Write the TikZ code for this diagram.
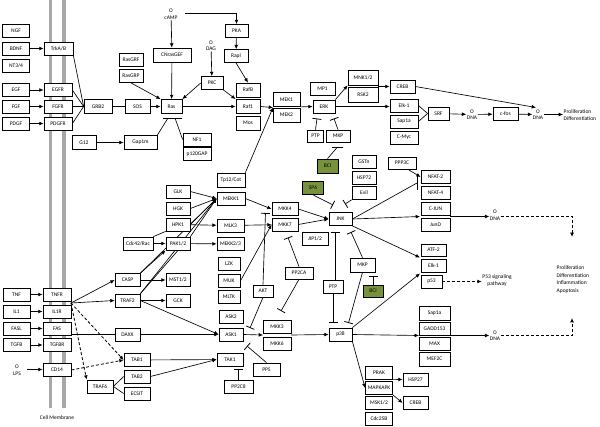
\documentclass[tikz,border=0pt]{standalone}
\usepackage{fontspec}
\setmainfont{Carlito}
\usetikzlibrary{arrows.meta,shadows}
\definecolor{grn}{HTML}{76923C}
\definecolor{memb}{HTML}{A8A8A8}
\pgfdeclarelayer{bg}
\pgfsetlayers{bg,main}
\begin{document}
\begin{tikzpicture}[x=1pt,y=-1pt,
  font=\fontsize{5.5}{6.5}\selectfont,
  box/.style={draw, line width=0.75pt, fill=white, minimum height=13pt, inner sep=0.5pt, minimum width=#1,
    drop shadow={shadow xshift=0.9pt, shadow yshift=-0.9pt, fill=black!35, opacity=1}},
  box/.default=26pt,
  gbox/.style={box=#1, fill=grn},
  txt/.style={align=center, inner sep=0.5pt},
  ln/.style={line width=0.65pt},
  ar/.style={ln, -{Latex[length=4.3pt,width=3.8pt]}},
  inh/.style={ln, -{Bar[width=9pt,line width=0.8pt]}},
  dsh/.style={ar, line width=0.8pt, dash pattern=on 3pt off 2pt},
  membl/.style={line width=3.4pt, draw=memb}]
\useasboundingbox (0,0) rectangle (600,426);

% ---------- nodes ----------
\node[box=27pt] (NGF) at (16,30.5) {NGF};
\node[box=27pt] (BDNF) at (16,48.5) {BDNF};
\node[box=27pt] (NT34) at (16,66) {NT3/4};
\node[box=27pt] (EGF) at (16,90) {EGF};
\node[box=27pt] (FGF) at (16,106.5) {FGF};
\node[box=27pt] (PDGF) at (16,123.5) {PDGF};
\node[box=27pt] (TNF) at (16.5,294.5) {TNF};
\node[box=27pt] (IL1) at (16.5,311.5) {IL1};
\node[box=27pt] (FASL) at (16.5,328.5) {FASL};
\node[box=27pt] (TGFB) at (16.5,345) {TGFB};

\node[box=29pt] (TrkAB) at (58.5,48.5) {TrkA/B};
\node[box=28pt] (EGFR) at (58,90) {EGFR};
\node[box=28pt] (FGFR) at (58,106.5) {FGFR};
\node[box=28pt] (PDGFR) at (58,123.5) {PDGFR};
\node[box=28pt] (TNFR) at (57,294.5) {TNFR};
\node[box=28pt] (IL1R) at (57,311.5) {IL1R};
\node[box=28pt] (FAS) at (57,328.5) {FAS};
\node[box=28pt] (TGFBR) at (57,345) {TGFBR};
\node[box=28pt] (CD14) at (57,370) {CD14};
\node[txt] (lps) at (17,370) {O\\LPS};
\node[txt] (cm) at (57,418) {Cell Membrane};

\node[box=28pt,minimum height=14pt] (GRB2) at (98,106.5) {GRB2};
\node[box=25pt,minimum height=14pt] (SOS) at (137.5,106.5) {SOS};
\node[box=21pt,minimum height=14pt] (Ras) at (171.5,106.5) {Ras};
\node[box=24pt] (RasGRF) at (131,59.5) {RasGRF};
\node[box=24pt] (RasGRP) at (131,76) {RasGRP};
\node[box=38pt,minimum height=14pt] (CNrasGEF) at (172,55) {CNrasGEF};
\node[txt] (cAMP) at (171,14) {O\\cAMP};
\node[box=23pt] (PKA) at (236.5,31) {PKA};
\node[box=24pt] (Rapl) at (236,56) {Rapl};
\node[txt] (dag) at (211,45.5) {O\\DAG};
\node[box=22pt] (PKC) at (212,83) {PKC};
\node[box=24pt,minimum height=14pt] (RafB) at (248,90) {RafB};
\node[box=24pt,minimum height=14pt] (Raf1) at (248,106.5) {Raf1};
\node[box=24pt,minimum height=14pt] (Mos) at (248,123) {Mos};
\node[box=27pt,minimum height=14pt] (MEK1) at (286.5,99.5) {MEK1};
\node[box=27pt,minimum height=14pt] (MEK2) at (286.5,115) {MEK2};
\node[box=25pt] (MP1) at (322.5,88.5) {MP1};
\node[box=22pt] (ERK) at (324,106.5) {ERK};
\node[box=16pt,minimum height=12pt] (PTPa) at (315.5,136) {PTP};
\node[box=24pt,minimum height=12pt] (MKPa) at (338,136) {MKP};
\node[box=30pt,minimum height=15pt] (MNK) at (363,77.5) {MNK1/2};
\node[box=30pt,minimum height=15pt] (RSK2) at (363,94.5) {RSK2};
\node[box=25pt] (CREBa) at (402.5,86.5) {CREB};
\node[box=28pt] (Elka) at (404,105.5) {Elk-1};
\node[box=28pt] (Sapa) at (404,121.5) {Sap1a};
\node[box=28pt] (CMyc) at (404,137.5) {C-Myc};
\node[box=21pt] (SRF) at (438.5,113.5) {SRF};
\node[txt] (dna1) at (472,114.5) {O\\DNA};
\node[box=25pt] (cfos) at (505.5,114) {c-fos};
\node[txt] (dna2) at (538,114.5) {O\\DNA};
\node[txt,align=left,anchor=west] (prolif1) at (563,115) {Proliferation\\Differentiation};

\node[box=24pt,minimum height=14pt] (G12) at (84,142.5) {G12};
\node[box=33pt,minimum height=14pt] (Gap1m) at (140.5,142.5) {Gap1m};
\node[box=28pt] (NF1) at (197,139.5) {NF1};
\node[box=28pt] (p120) at (197,154) {p120GAP};

\node[box=28pt,minimum height=14pt] (Tp12) at (231,180) {Tp12/Cot};
\node[box=24pt] (GLK) at (178,191.5) {GLK};
\node[box=24pt] (HGK) at (178,208.5) {HGK};
\node[box=24pt] (HPK1) at (178,224.5) {HPK1};
\node[box=24pt] (PAK12) at (178,243.5) {PAK1/2};
\node[box=24pt] (MST12) at (178,280) {MST1/2};
\node[box=24pt] (GCK) at (178,300.5) {GCK};
\node[box=30pt] (Cdc42) at (138,243.5) {Cdc42/Rac};
\node[box=25pt] (CASP) at (127.5,280) {CASP};
\node[box=25pt] (TRAF2) at (127.5,300.5) {TRAF2};
\node[box=25pt] (DAXX) at (127.5,334.5) {DAXX};

\node[box=28pt] (MEKK1) at (231,198.5) {MEKK1};
\node[box=27pt] (MLK3) at (230.5,225.5) {MLK3};
\node[box=27pt] (MEKK23) at (230.5,244) {MEKK2/3};
\node[box=22pt] (LZK) at (229,263.5) {LZK};
\node[box=22pt] (MUK) at (229,281) {MUK};
\node[box=22pt] (MLTK) at (229,296.5) {MLTK};
\node[box=24pt] (ASK2) at (231,316.5) {ASK2};
\node[box=24pt] (ASK1) at (231,334.5) {ASK1};
\node[box=26pt] (TAK1) at (230,359.5) {TAK1};
\node[box=26pt] (MKK4) at (285,209) {MKK4};
\node[box=26pt] (MKK7) at (285,224.5) {MKK7};
\node[box=26pt] (JIP) at (315,238.5) {JIP1/2};
\node[box=23pt] (JNK) at (340.5,219) {JNK};
\node[box=24pt] (GSTn) at (364,161.5) {GSTn};
\node[box=24pt] (HSP72) at (364,177.5) {HSP72};
\node[box=24pt] (Evil) at (364,193) {Evil};
\node[gbox=21pt,minimum height=14pt] (BCIa) at (327.5,166) {BCI};
\node[gbox=21pt] (SP6) at (313,188) {SP6};
\node[box=28pt,minimum height=12pt] (PPP3C) at (402,163) {PPP3C};
\node[box=29pt] (NFAT2) at (435.5,177) {NFAT-2};
\node[box=29pt] (NFAT4) at (435.5,193) {NFAT-4};
\node[box=29pt] (CJUN) at (435.5,208.5) {C-JUN};
\node[box=29pt] (JunD) at (435.5,224.5) {JunD};
\node[txt] (dna3) at (495,215) {O\\DNA};
\node[box=25pt,minimum height=12pt] (ATF2) at (433.5,250) {ATF-2};
\node[box=25pt] (Elkb) at (433.5,265.5) {Elk-1};
\node[box=21pt] (p53) at (431.5,281.5) {p53};
\node[txt] (p53t) at (497,280.5) {P53 signaling\\pathway};
\node[txt,align=left,anchor=west,font=\fontsize{5.5}{7.6}\selectfont] (prolif2) at (556,279.5) {Proliferation\\Differentiation\\Inflammation\\Apoptosis};

\node[box=20pt] (PTPb) at (333,286.5) {PTP};
\node[box=25pt,minimum height=14pt] (MKPb) at (362.5,265) {MKP};
\node[gbox=20pt,minimum height=12pt] (BCIb) at (373,291) {BCI};
\node[box=28pt,minimum height=12pt] (PP2CA) at (299,273) {PP2CA};
\node[box=20pt,minimum height=12pt] (AKT) at (263,291) {AKT};
\node[box=28pt] (MKK3) at (277,326.5) {MKK3};
\node[box=28pt] (MKK6) at (277,343.5) {MKK6};
\node[box=23pt] (p38) at (340.5,334.5) {p38};
\node[box=31pt,minimum height=14pt] (Sapb) at (434.5,313) {Sap1a};
\node[box=31pt] (GADD) at (434.5,328.5) {GADD153};
\node[box=31pt] (MAX) at (434.5,343.5) {MAX};
\node[box=31pt,minimum height=14pt] (MEF2C) at (434.5,359) {MEF2C};
\node[txt] (dna4) at (495,335.5) {O\\DNA};
\node[box=27pt] (PRAK) at (379,372.5) {PRAK};
\node[box=27pt] (MAPKAPK) at (379,388) {MAPKAPK};
\node[box=27pt] (MSK12) at (379,403) {MSK1/2};
\node[box=27pt] (Cdc25B) at (379,418.5) {Cdc25B};
\node[box=25pt] (HSP27) at (415.5,379.5) {HSP27};
\node[box=25pt] (CREBb) at (415.5,403) {CREB};
\node[box=26pt] (TAB1) at (137,360) {TAB1};
\node[box=26pt] (TAB2) at (137,376.5) {TAB2};
\node[box=26pt] (ECSIT) at (137,393.5) {ECSIT};
\node[box=26pt] (TRAF6) at (100,386.5) {TRAF6};
\node[box=29pt] (PP2C8) at (238.5,386.5) {PP2C8};
\node[box=27pt] (PP5) at (266.5,369.5) {PP5};

% ---------- helper coordinates ----------
\coordinate (mA) at (50.7,0);   \coordinate (mA2) at (50.7,408);
\coordinate (mB) at (64,0);     \coordinate (mB2) at (64,408);
\coordinate (lpsr) at (27,369.5);
\coordinate (camp1) at (185,13);
\coordinate (rasL) at (163,118); \coordinate (rasR) at (182,118);
\coordinate (rasG) at (168,118); \coordinate (rasN) at (175,118);
\coordinate (erkb1) at (317,118.5); \coordinate (erkb2) at (334,118.5);
\coordinate (mkpaL) at (332,147); \coordinate (mkpaR) at (343,147); \coordinate (mkpaC) at (337.5,147);
\coordinate (mekj) at (273,107.5);
\coordinate (dna2in) at (536,107.5);
\coordinate (j1) at (71,303);
\coordinate (akttop) at (265.5,213);
\coordinate (aktbot) at (250,328);
\coordinate (pp5e) at (247,346);
\coordinate (tak1b) at (238.5,369);
\coordinate (sp6e) at (333,205);
\coordinate (evile) at (345,204);
\coordinate (jnkb1) at (335,232); \coordinate (jnkb2) at (351,232);
\coordinate (p38b1) at (333,323); \coordinate (p38b2) at (348.5,323);
\coordinate (mkpbb) at (373,276);
\coordinate (mkk7b) at (288,237.5);
\coordinate (mkk3b) at (281,311);
\coordinate (mkkj) at (263,335); \coordinate (mkkr) at (291,335);
\coordinate (nfatp) at (417,183); \coordinate (nfatT) at (417,176); \coordinate (nfatB) at (417,190);
\coordinate (cjunj) at (420,216.5); \coordinate (cjunr) at (450,216.5);
\coordinate (atfj) at (420,257.5);
\coordinate (elkj) at (420,273.5);
\coordinate (gaddj) at (419,335.5); \coordinate (gaddr) at (450,335.5);
\coordinate (d3a) at (572,216.5); \coordinate (d3b) at (572,237);
\coordinate (d4a) at (572,335.5); \coordinate (d4b) at (572,318);

% ---------- connectors ----------
\begin{pgfonlayer}{bg}
\draw[membl] (mA) -- (mA2);
\draw[membl] (mB) -- (mB2);

\draw[ar] (BDNF) -- (TrkAB);
\draw[ar] (EGF) -- (EGFR);
\draw[ar] (FGF) -- (FGFR);
\draw[ar] (PDGF) -- (PDGFR);
\draw[ar] (TNF) -- (TNFR);
\draw[ar] (IL1) -- (IL1R);
\draw[ar] (FASL) -- (FAS);
\draw[ar] (TGFB) -- (TGFBR);
\draw[ar] (lpsr) -- (CD14.west |- lpsr);

\draw[ln] (TrkAB.south east) -- (GRB2.west);
\draw[ln] (EGFR.east) -- (GRB2.west);
\draw[ln] (FGFR) -- (GRB2);
\draw[ln] (PDGFR.east) -- (GRB2.west);
\draw[ln] (GRB2) -- (SOS);
\draw[ar] (SOS) -- (Ras);
\draw[ar] (cAMP) -- (CNrasGEF);
\draw[ar] (camp1) -| (PKA.north);
\draw[ar] (CNrasGEF) -- (Ras);
\draw[ar] (RasGRP.south) -- (Ras.north west);
\draw[ar] (PKC.west) -- (Ras.north east);
\draw[ar] (Ras) -- (Raf1);
\draw[ar] (dag) -- (PKC);
\draw[ar] (PKA) -- (Rapl);
\draw[ar] (Rapl.south) -- (RafB.north);
\draw[ar] (PKC.south east) -- (Raf1.north west);
\draw[ar] (Raf1.east) -- (mekj);
\draw[ar] (Tp12.north east) -- (mekj);
\draw[ar] (MEK1.south east) -- (ERK.west);
\draw[ar] (ERK.north east) -- (MNK.south west);
\draw[ar] (ERK.east) -- (Elka.west |- ERK.east);
\draw[ar] (MNK.south east |- CREBa.west) -- (CREBa.west);
\draw[ar] (CREBa.east) -- (dna2in);
\draw[ln] (Elka.east) -- (SRF.west);
\draw[ln] (Sapa.east) -- (SRF.west);
\draw[ar] (SRF) -- (dna1);
\draw[ar] (dna1) -- (cfos);
\draw[ar] (cfos) -- (dna2);
\draw[ar] (dna2) -- (prolif1.west |- dna2);

\draw[ar] (G12) -- (Gap1m);
\draw[ln] (Gap1m.north east) -- (rasG);
\draw[ln] (NF1.west) -- (rasN);
\draw[ln, line width=0.8pt] (rasL) -- (rasR);
\draw[inh] (PTPa.north) -- (erkb1);
\draw[inh] (MKPa.north) -- (erkb2);
\draw[ln] (BCIa.north) -- (mkpaC);
\draw[ln, line width=0.8pt] (mkpaL) -- (mkpaR);

\draw[ar] (GLK.east) -- (MEKK1.west);
\draw[ar] (HGK.east) -- (MEKK1.west);
\draw[ar] (HPK1.east) -- (MEKK1.west);
\draw[ar] (PAK12.north east) -- (MEKK1.west);
\draw[ar] (CASP.north east) -- (MEKK1.west);
\draw[ar] (TRAF2.north east) -- (MEKK1.west);
\draw[ar] (CASP.north east) -- (PAK12.south west);
\draw[ln] (TRAF2.north east) -- (PAK12.south);
\draw[ar] (Cdc42) -- (PAK12);
\draw[ln] (Cdc42.north east) -- (HPK1.south west);
\draw[ar] (HPK1) -- (MLK3);
\draw[ar] (PAK12) -- (MEKK23);
\draw[ar] (CASP) -- (MST12);
\draw[ar] (TRAF2) -- (GCK);

\draw[ar] (j1) -- (CASP.west);
\draw[ar] (j1) -- (TRAF2.west);
\draw[dsh] (j1) -- (TAB1.west);
\draw[dsh] (j1) -- (TRAF6.north west);
\draw[dsh] (CD14.east) -- (TAB1.west);
\draw[ln] (FAS.east |- DAXX.west) -- (DAXX.west);
\draw[ar] (DAXX.east) -- (ASK1.west);
\draw[ar] (TRAF2.east) -- (ASK1.west);
\draw[ln] (TRAF6.east) -- (TAB2.west);
\draw[ln] (TRAF6.east) -- (ECSIT.west);
\draw[ar] (TAB1) -- (TAK1);
\draw[ar] (TAB2.east) -- (TAK1.west);
\draw[inh] (PP2C8.north) -- (tak1b);
\draw[inh] (PP5.north) -- (pp5e);
\draw[inh] (AKT.south) -- (aktbot);
\draw[inh] (AKT.north) -- (akttop);

\draw[ar] (MEKK1.east) -- (MKK4.west);
\draw[ar] (MLK3) -- (MKK7);
\draw[ar] (MUK.east) -- (MKK7.west);
\draw[ar] (MKK4.east) -- (JNK.west);
\draw[ar] (MKK7.east) -- (JNK.west);
\draw[inh] (SP6.south) -- (sp6e);
\draw[inh] (Evil.south west) -- (evile);
\draw[inh] (PTPb.north -| jnkb1) -- (jnkb1);
\draw[inh] (MKPb.north) -- (jnkb2);
\draw[inh] (PTPb.south) -- (p38b1);
\draw[inh] (MKPb.south) -- (p38b2);
\draw[inh] (BCIb.north) -- (mkpbb);
\draw[inh] (PP2CA.north) -- (mkk7b);
\draw[inh] (PP2CA.south) -- (mkk3b);
\draw[ar] (ASK1.east) -- (mkkj);
\draw[ar] (mkkr) -- (p38.west);
\draw[ar] (p38.north east) -- (elkj);
\draw[ar] (p38.east) -- (gaddj);
\draw[ar] (p38.south east) -- (MAPKAPK.west);
\draw[ln] (JNK.east) -- (nfatp);
\draw[ln, line width=0.8pt] (nfatT) -- (nfatB);
\draw[ar] (JNK.east) -- (cjunj);
\draw[ar] (JNK.south east) -- (atfj);
\draw[ar] ([xshift=6pt]PPP3C.south) -- (NFAT2.west);
\draw[ar] (cjunr) -- (dna3.west |- cjunr);
\draw[dsh] (dna3.east |- cjunr) -- (d3a) -- (d3b);
\draw[dsh] (p53.east) -- (p53t.west |- p53.east);
\draw[ar] (gaddr) -- (dna4.west |- gaddr);
\draw[dsh] (dna4.east |- gaddr) -- (d4a) -- (d4b);
\draw[ar] (PRAK.south east) -- (HSP27.west);
\draw[ar] (MAPKAPK.south east) -- (CREBb.west);
\end{pgfonlayer}
\end{tikzpicture}
\end{document}
